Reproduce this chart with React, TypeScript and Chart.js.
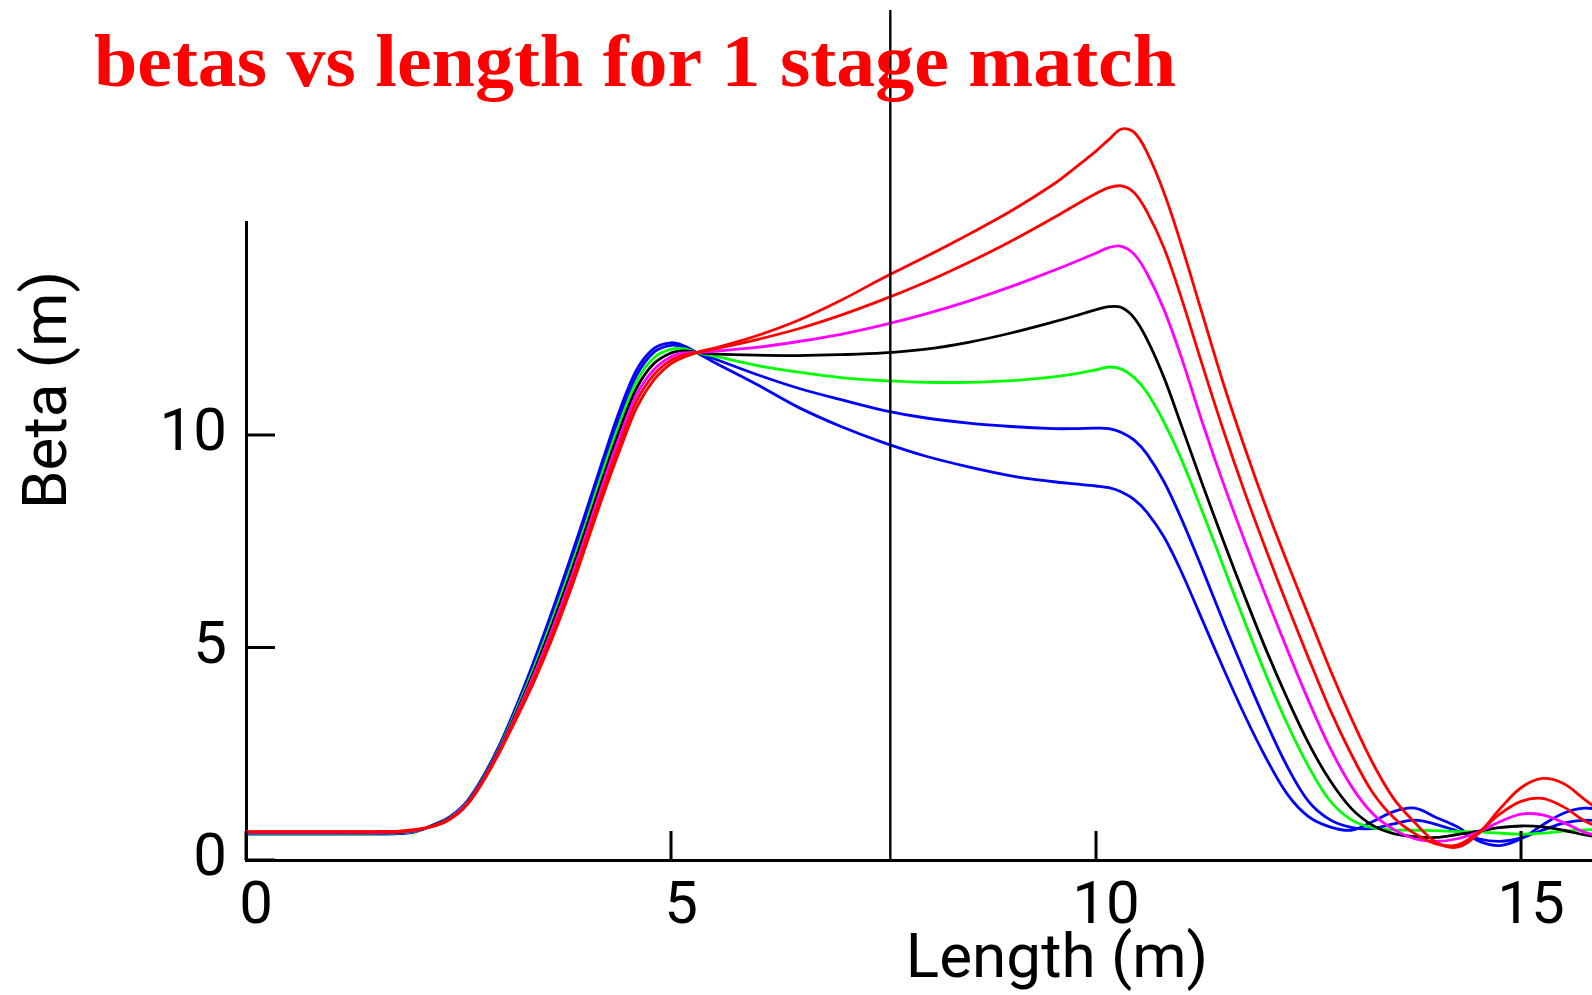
import React, { useEffect, useRef } from 'react';
import { Chart, registerables } from 'chart.js';

Chart.register(...registerables);

// Length along the line (m) at which every beta curve is sampled
const lengthGrid = [
  0, 0.5, 1, 1.5, 1.8, 2, 2.2, 2.4, 2.6, 2.8,
  3, 3.2, 3.4, 3.6, 3.8, 4, 4.2, 4.4, 4.6, 4.8,
  5, 5.15, 5.3, 5.5, 6, 6.5, 7, 7.5, 8, 8.5,
  9, 9.5, 9.75, 10, 10.15, 10.3, 10.45, 10.6, 10.8, 11, 11.25,
  11.5, 11.75, 12, 12.25, 12.5, 12.75, 13, 13.25, 13.5, 13.75,
  14, 14.25, 14.5, 14.75, 15, 15.25, 15.5, 15.75, 16,
];

// Beta (m) for each of the seven match settings
const betaBlueLow = [
  0.61, 0.61, 0.61, 0.61, 0.62, 0.67, 0.82, 1.02, 1.38, 2.0,
  2.78, 3.72, 4.75, 5.85, 7.0, 8.2, 9.43, 10.6, 11.55, 12.04,
  12.17, 12.1, 11.94, 11.72, 11.2, 10.65, 10.2, 9.82, 9.5, 9.25,
  9.04, 8.9, 8.85, 8.8, 8.76, 8.66, 8.48, 8.18, 7.6, 6.8, 5.65,
  4.5, 3.4, 2.4, 1.55, 1.02, 0.78, 0.7, 0.9, 1.14, 1.22,
  1.0, 0.78, 0.45, 0.34, 0.5, 0.82, 1.1, 1.22, 1.16,
];
const betaBlueHigh = [
  0.62, 0.62, 0.62, 0.62, 0.63, 0.68, 0.82, 1.01, 1.37, 1.98,
  2.75, 3.67, 4.67, 5.75, 6.88, 8.07, 9.3, 10.45, 11.42, 11.95,
  12.11, 12.07, 11.94, 11.8, 11.43, 11.1, 10.83, 10.58, 10.4, 10.28,
  10.2, 10.15, 10.15, 10.16, 10.15, 10.06, 9.88, 9.55, 8.9, 8.05, 6.85,
  5.6, 4.4, 3.25, 2.2, 1.38, 0.95, 0.77, 0.74, 0.85, 0.94,
  0.84, 0.68, 0.5, 0.44, 0.52, 0.7, 0.87, 0.94, 0.9,
];
const betaGreen = [
  0.63, 0.63, 0.63, 0.63, 0.64, 0.68, 0.81, 1.0, 1.35, 1.96,
  2.72, 3.62, 4.59, 5.64, 6.76, 7.93, 9.16, 10.3, 11.28, 11.82,
  12.02, 12.03, 11.94, 11.86, 11.64, 11.48, 11.35, 11.28, 11.24, 11.24,
  11.28, 11.37, 11.44, 11.53, 11.6, 11.55, 11.35, 11.0, 10.3, 9.45, 8.2,
  6.9, 5.6, 4.35, 3.2, 2.2, 1.4, 0.95, 0.76, 0.71, 0.7,
  0.69, 0.67, 0.66, 0.63, 0.61, 0.63, 0.68, 0.71, 0.72,
];
const betaBlack = [
  0.64, 0.64, 0.64, 0.64, 0.65, 0.69, 0.81, 0.99, 1.34, 1.94,
  2.69, 3.56, 4.5, 5.53, 6.63, 7.8, 9.0, 10.14, 11.12, 11.68,
  11.93, 11.98, 11.94, 11.91, 11.88, 11.87, 11.89, 11.93, 12.02, 12.18,
  12.4, 12.66, 12.8, 12.95, 13.02, 13.0, 12.75, 12.25, 11.35, 10.25, 8.85,
  7.5, 6.2, 4.95, 3.8, 2.75, 1.88, 1.22, 0.82, 0.62, 0.55,
  0.53, 0.6, 0.68, 0.76, 0.8, 0.78, 0.7, 0.59, 0.52,
];
const betaMagenta = [
  0.65, 0.65, 0.65, 0.65, 0.66, 0.7, 0.8, 0.98, 1.33, 1.92,
  2.66, 3.51, 4.42, 5.42, 6.5, 7.66, 8.86, 9.98, 10.97, 11.54,
  11.84, 11.93, 11.94, 11.97, 12.06, 12.2, 12.37, 12.59, 12.85, 13.15,
  13.49, 13.87, 14.07, 14.28, 14.41, 14.44, 14.25, 13.8, 12.95, 11.85, 10.3,
  8.85, 7.5, 6.2, 4.95, 3.75, 2.65, 1.75, 1.1, 0.72, 0.5,
  0.44, 0.5, 0.66, 0.9, 1.08, 1.06, 0.88, 0.65, 0.52,
];
const betaRedLow = [
  0.66, 0.66, 0.66, 0.66, 0.67, 0.71, 0.8, 0.97, 1.31, 1.9,
  2.63, 3.46, 4.33, 5.31, 6.38, 7.53, 8.72, 9.82, 10.82, 11.42,
  11.76, 11.88, 11.94, 12.02, 12.24, 12.5, 12.82, 13.19, 13.6, 14.06,
  14.56, 15.11, 15.4, 15.68, 15.82, 15.86, 15.7, 15.25, 14.4, 13.25, 11.65,
  10.1, 8.65, 7.3, 6.0, 4.75, 3.55, 2.5, 1.6, 1.0, 0.62,
  0.38, 0.35, 0.65, 1.08, 1.38, 1.45, 1.25, 0.92, 0.7,
];
const betaRedHigh = [
  0.67, 0.67, 0.67, 0.67, 0.68, 0.72, 0.79, 0.96, 1.3, 1.88,
  2.6, 3.4, 4.25, 5.2, 6.25, 7.4, 8.57, 9.66, 10.66, 11.3,
  11.68, 11.83, 11.94, 12.04, 12.33, 12.7, 13.17, 13.7, 14.2, 14.72,
  15.27, 15.9, 16.28, 16.68, 16.95, 17.2, 17.12, 16.65, 15.7, 14.5, 12.85,
  11.2, 9.7, 8.3, 7.0, 5.75, 4.5, 3.35, 2.3, 1.45, 0.88,
  0.42, 0.3, 0.62, 1.2, 1.7, 1.92, 1.8, 1.42, 1.05,
];

// Vertical marker at the match position
const markerLength = 7.58;
const markerBeta = [0, 20];

// Axis ranges and tick labels
const xRange = [0, 15.835];
const yRange = [0, 15];
const xTickValues = [0, 5, 10, 15];
const yTickValues = [0, 5, 10];

const titleText = 'betas vs length for 1 stage match';
const xTitle = 'Length (m)';
const yTitle = 'Beta (m)';

const seriesList: { values: number[]; color: string }[] = [
  { values: betaRedHigh, color: '#ff0000' },
  { values: betaRedLow, color: '#ff0000' },
  { values: betaMagenta, color: '#ff00ff' },
  { values: betaBlack, color: '#000000' },
  { values: betaGreen, color: '#00ff00' },
  { values: betaBlueHigh, color: '#0000ff' },
  { values: betaBlueLow, color: '#0000ff' },
];

const SANS = 'Roboto, "Liberation Sans", sans-serif';
const SERIF = '"Liberation Serif", "DejaVu Serif", serif';

const decorations = {
  id: 'decorations',
  afterDatasetsDraw(chart: any) {
    const { ctx, scales } = chart;
    const x = scales.x;
    const y = scales.y;
    ctx.save();

    // inward tick marks
    ctx.strokeStyle = '#000';
    ctx.lineWidth = 3;
    const tickLen = 29;
    yTickValues.forEach((v) => {
      const py = y.getPixelForValue(v);
      ctx.beginPath();
      ctx.moveTo(x.left, py);
      ctx.lineTo(x.left + tickLen, py);
      ctx.stroke();
    });
    xTickValues.forEach((v) => {
      const px = x.getPixelForValue(v);
      ctx.beginPath();
      ctx.moveTo(px, y.bottom);
      ctx.lineTo(px, y.bottom - tickLen);
      ctx.stroke();
    });

    // plot title, widened slightly so that it spans the header width
    const titleWidth = 1082;
    ctx.fillStyle = '#ff0000';
    ctx.font = `bold 74px ${SERIF}`;
    ctx.textAlign = 'left';
    ctx.textBaseline = 'alphabetic';
    const measured = ctx.measureText(titleText).width || titleWidth;
    ctx.save();
    ctx.translate(94, 86);
    ctx.scale(titleWidth / measured, 1);
    ctx.fillText(titleText, 0, 0);
    ctx.restore();

    // axis titles
    ctx.fillStyle = '#000';
    ctx.font = `62px ${SANS}`;
    ctx.textAlign = 'center';
    ctx.fillText(xTitle, 1057, 977);

    ctx.translate(66, 390);
    ctx.rotate(-Math.PI / 2);
    ctx.fillText(yTitle, 0, 0);

    ctx.restore();
  },
};

export default function App() {
  const canvasRef = useRef<HTMLCanvasElement>(null);

  useEffect(() => {
    const canvas = canvasRef.current;
    if (!canvas) return;

    const datasets: any[] = [
      {
        data: markerBeta.map((b) => ({ x: markerLength, y: b })),
        borderColor: '#000000',
        borderWidth: 2.4,
        pointRadius: 0,
        clip: false,
      },
      ...seriesList.map((s) => ({
        data: lengthGrid.map((l, i) => ({ x: l, y: s.values[i] })),
        borderColor: s.color,
        borderWidth: 2.8,
        pointRadius: 0,
        tension: 0.35,
        clip: false,
      })),
    ];

    const tickFont = { family: SANS, size: 60 };

    const chart = new Chart(canvas, {
      type: 'line',
      data: { datasets },
      options: {
        animation: false,
        responsive: false,
        events: [],
        layout: { padding: { top: 222.5, left: 0, right: 0, bottom: 0 } },
        plugins: {
          legend: { display: false },
          title: { display: false },
          tooltip: { enabled: false },
        },
        scales: {
          x: {
            type: 'linear',
            min: xRange[0],
            max: xRange[1],
            afterBuildTicks: (axis: any) => {
              axis.ticks = xTickValues.map((v) => ({ value: v }));
            },
            afterFit: (axis: any) => {
              axis.height = 135;
            },
            grid: { display: false, drawTicks: false },
            border: { display: true, color: '#000', width: 3 },
            ticks: {
              color: '#000',
              font: tickFont,
              padding: 12,
              labelOffset: 10,
              maxRotation: 0,
              autoSkip: false,
            },
          },
          y: {
            type: 'linear',
            min: yRange[0],
            max: yRange[1],
            afterBuildTicks: (axis: any) => {
              axis.ticks = yTickValues.map((v) => ({ value: v }));
            },
            afterFit: (axis: any) => {
              axis.width = 246;
            },
            grid: { display: false, drawTicks: false },
            border: { display: true, color: '#000', width: 3 },
            ticks: {
              color: '#000',
              font: tickFont,
              padding: 19,
              autoSkip: false,
            },
          },
        },
      } as any,
      plugins: [decorations],
    });

    return () => chart.destroy();
  }, []);

  return (
    <div
      style={{
        position: 'absolute',
        left: 0,
        top: 0,
        width: 1592,
        height: 995,
        background: '#ffffff',
        overflow: 'hidden',
      }}
    >
      <canvas ref={canvasRef} width={1592} height={995} style={{ display: 'block' }} />
    </div>
  );
}
